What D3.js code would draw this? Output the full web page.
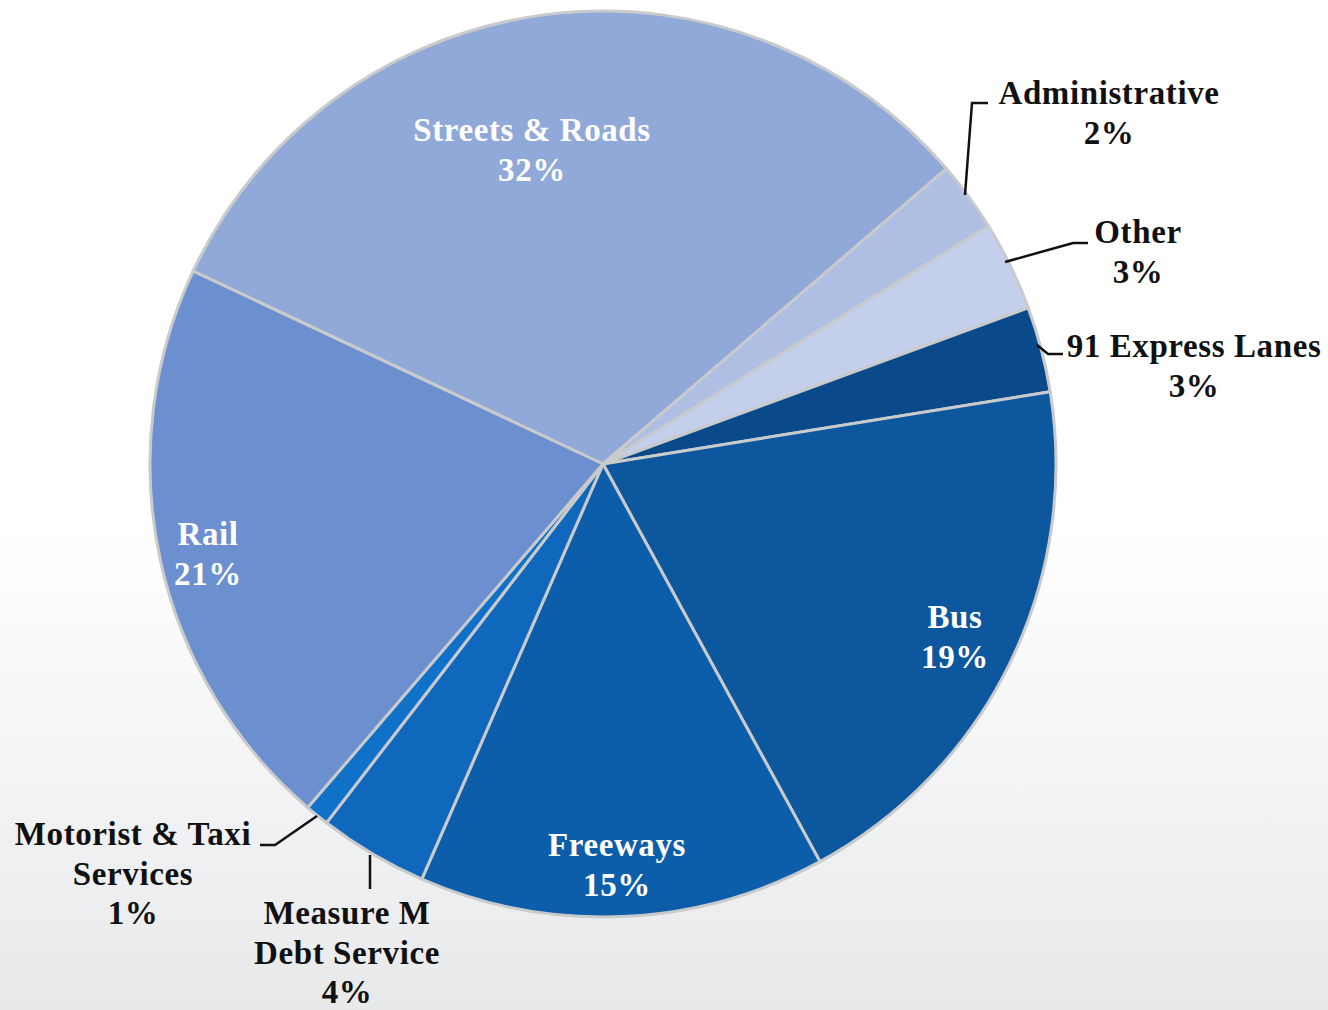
<!DOCTYPE html>
<html>
<head>
<meta charset="utf-8">
<script src="https://cdn.jsdelivr.net/npm/d3@7"></script>
<style>
html, body { margin: 0; padding: 0; overflow: hidden; }
svg { display: block; }
</style>
</head>
<body>
<script>
var width = 1328;
var height = 1010;

// slice data, clockwise from the Streets & Roads slice
var categories = ['Streets & Roads', 'Administrative', 'Other', '91 Express Lanes', 'Bus',
    'Freeways', 'Measure M Debt Service', 'Motorist & Taxi Services', 'Rail'];
var shares = [31.7, 2.5, 3.2, 3.05, 19.6, 14.5, 3.9, 0.85, 20.7];
var shareLabels = ['32%', '2%', '3%', '3%', '19%', '15%', '4%', '1%', '21%'];
var sliceColors = ['#91a9d9', '#aebfe3', '#c4cfeb', '#0b4a8a', '#0c579e', '#0d5eaa', '#0f68bc', '#1071c9', '#6b8fcf'];

// label lines per slice (text split how the original wraps it)
var labelLines = [
    ['Streets & Roads'], ['Administrative'], ['Other'], ['91 Express Lanes'], ['Bus'],
    ['Freeways'], ['Measure M', 'Debt Service'], ['Motorist & Taxi', 'Services'], ['Rail']
];

var cx = 603, cy = 464, radius = 453;
var lineH = 39.5;

// where each label block sits (first baseline), and whether it is inside the pie
var labelLayout = [
    {x: 532, y: 141, inside: true},
    {x: 1109, y: 104, inside: false, leader: [[965, 195], [972, 103], [988, 103]]},
    {x: 1138, y: 243, inside: false, leader: [[1005, 262], [1073, 243], [1088, 243]]},
    {x: 1194, y: 357, inside: false, leader: [[1037, 345], [1048, 354], [1063, 354]]},
    {x: 955, y: 628, inside: true},
    {x: 617, y: 856, inside: true},
    {x: 347, y: 924, inside: false, leader: [[370, 855], [370, 889]]},
    {x: 133, y: 845, inside: false, leader: [[317, 816], [275, 845], [260, 845]]},
    {x: 208, y: 545, inside: true}
];

var svg = d3.select('body').append('svg')
    .attr('width', width)
    .attr('height', height);

var grad = svg.append('defs').append('linearGradient')
    .attr('id', 'bg')
    .attr('x1', 0).attr('y1', 0).attr('x2', 0).attr('y2', 1);
grad.append('stop').attr('offset', '0%').attr('stop-color', '#ffffff');
grad.append('stop').attr('offset', '52%').attr('stop-color', '#ffffff');
grad.append('stop').attr('offset', '100%').attr('stop-color', '#e8e9eb');

svg.append('rect')
    .attr('width', width)
    .attr('height', height)
    .attr('fill', 'url(#bg)');

var startAngle = -64.8 * Math.PI / 180;
var pie = d3.pie()
    .sort(null)
    .startAngle(startAngle)
    .endAngle(startAngle + 2 * Math.PI);

var arc = d3.arc()
    .innerRadius(0)
    .outerRadius(radius);

var slices = pie(shares);

var g = svg.append('g')
    .attr('transform', 'translate(' + cx + ',' + cy + ')');

g.selectAll('path.slice')
    .data(slices)
    .enter().append('path')
    .attr('class', 'slice')
    .attr('d', arc)
    .attr('fill', function (d, i) { return sliceColors[i]; })
    .attr('stroke', '#c9cacc')
    .attr('stroke-width', 3)
    .attr('stroke-linejoin', 'round');

// leader lines for the small slices
var line = d3.line();
svg.selectAll('path.leader')
    .data(labelLayout.filter(function (d) { return d.leader; }))
    .enter().append('path')
    .attr('class', 'leader')
    .attr('d', function (d) { return line(d.leader); })
    .attr('fill', 'none')
    .attr('stroke', '#111')
    .attr('stroke-width', 2.5);

var labels = svg.selectAll('text.label')
    .data(categories)
    .enter().append('text')
    .attr('class', 'label')
    .attr('text-anchor', 'middle')
    .attr('font-family', '"Liberation Serif", "DejaVu Serif", serif')
    .attr('font-weight', 'bold')
    .attr('font-size', 33)
    .attr('letter-spacing', 0.6)
    .attr('fill', function (d, i) { return labelLayout[i].inside ? '#ffffff' : '#111111'; });

labels.each(function (d, i) {
    var t = d3.select(this);
    var pos = labelLayout[i];
    var rows = labelLines[i].concat([shareLabels[i]]);
    rows.forEach(function (r, k) {
        t.append('tspan')
            .attr('x', pos.x)
            .attr('y', pos.y + k * lineH)
            .text(r);
    });
});
</script>
</body>
</html>
